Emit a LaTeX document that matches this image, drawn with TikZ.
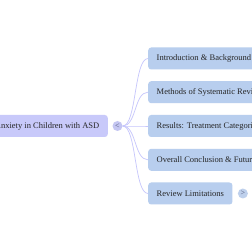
\documentclass[tikz,border=0pt]{standalone}
\usepackage{fontspec}
\setmainfont{Liberation Serif}
\usetikzlibrary{positioning, calc}

\definecolor{rootfill}{RGB}{200,201,250}
\definecolor{kidfill}{RGB}{184,206,238}
\definecolor{linkcol}{RGB}{198,198,252}
\definecolor{foldfill}{RGB}{196,198,242}
\definecolor{foldfill2}{RGB}{190,208,236}
\definecolor{foldtext}{RGB}{80,86,120}

\begin{document}
\begin{tikzpicture}[x=1pt, y=1pt,
  box/.style={rectangle, rounded corners=3pt, minimum height=22pt, inner xsep=8.5pt, inner ysep=0pt, font=\fontsize{8.5}{10}\selectfont, text=black!85},
  root/.style={box, fill=rootfill, anchor=east},
  kid/.style={box, fill=kidfill, anchor=west},
  fold/.style={circle, inner sep=0pt, minimum size=10pt, font=\fontsize{8}{8}\selectfont, text=foldtext},
  link/.style={draw=linkcol, line width=0.7pt}
]

% frame
\path[use as bounding box, clip] (0,0) rectangle (252,252);
\fill[white] (0,0) rectangle (252,252);

% root and its fold button
\node[root] (anx) at (108, 126) {Anxiety in Children with ASD};
\node[fold, fill=foldfill] (fold) at (117.5, 126) {<};

% branches
\node[kid] (intro)   at (148, 193.5) {Introduction \& Background};
\node[kid] (methods) at (148, 159.8) {Methods of Systematic Review};
\node[kid] (results) at (148, 126)   {Results: Treatment Categories};
\node[kid] (concl)   at (148, 92.2)  {Overall Conclusion \& Future Directions};
\node[kid] (limits)  at (148, 58.5)  {Review Limitations};
\node[fold, fill=foldfill2, right=5pt of limits] (more) {>};

% links
\foreach \k in {intro, methods, results, concl, limits}
  \draw[link] (fold.east) .. controls +(14,0) and +(-14,0) .. (\k.west);

\end{tikzpicture}
\end{document}
